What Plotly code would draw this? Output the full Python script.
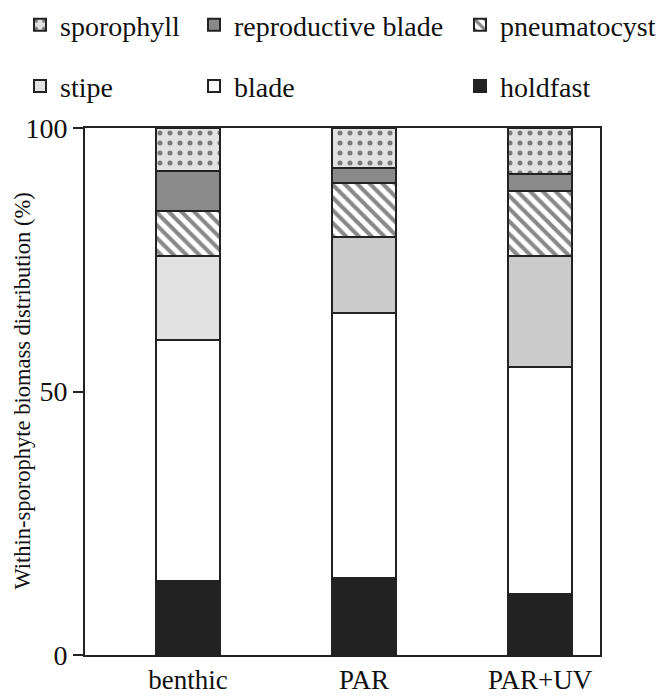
import plotly.graph_objects as go

categories = ["benthic", "PAR", "PAR+UV"]
holdfast = [14.0, 14.7, 11.5]
blade = [45.8, 50.2, 43.1]
stipe = [15.9, 14.4, 21.1]
pneumatocyst = [8.5, 10.3, 12.3]
reproductive_blade = [7.6, 2.9, 3.3]
sporophyll = [8.2, 7.5, 8.7]
y_ticks = [0, 50, 100]

FONT = "Liberation Serif"
LINE = "#222222"
fig = go.Figure()

def add(name, vals, color, rank, legend, pattern=None):
    marker = dict(color=color, line=dict(color=LINE, width=2))
    if pattern:
        marker["pattern"] = pattern
    fig.add_trace(go.Bar(
        x=categories, y=vals, name=name, marker=marker, width=0.36,
        legendrank=rank, legend=legend, legendgroup=name,
    ))

add("holdfast", holdfast, "#222222", 6, "legend3")
add("blade", blade, "#ffffff", 5, "legend2")
add("stipe", stipe, ["#e2e2e2", "#cbcbcb", "#cbcbcb"], 4, "legend")
add("pneumatocyst", pneumatocyst, "#ffffff", 3, "legend3",
    pattern=dict(shape="\\", fgcolor="#111111", size=9, solidity=0.45, fillmode="overlay"))
add("reproductive blade", reproductive_blade, "#8a8a8a", 2, "legend2")
add("sporophyll", sporophyll, "#e2e2e2", 1, "legend",
    pattern=dict(shape=".", fgcolor="#111111", size=10, solidity=0.2, fillmode="overlay"))

leg_common = dict(
    xref="container", yref="container", yanchor="top", xanchor="left", orientation="v",
    font=dict(family=FONT, size=28, color="#111111"),
    bgcolor="rgba(0,0,0,0)", traceorder="grouped", tracegroupgap=22,
    itemclick=False, itemdoubleclick=False,
)

fig.update_layout(
    width=661, height=696,
    margin=dict(l=85, r=61, t=128, b=41, autoexpand=False),
    paper_bgcolor="white", plot_bgcolor="white",
    barmode="stack", bargap=0,
    font=dict(family=FONT, size=27, color="#111111"),
    legend=dict(x=20/661, y=1 + 10/696, **leg_common),
    legend2=dict(x=194/661, y=1 + 10/696, **leg_common),
    legend3=dict(x=460/661, y=1 + 10/696, **leg_common),
    xaxis=dict(
        type="category", range=[-0.585, 2.34],
        showline=True, linecolor=LINE, linewidth=2, mirror=True,
        ticks="", showgrid=False, tickfont=dict(family=FONT, size=27),
        automargin=False,
    ),
    yaxis=dict(
        range=[0, 100], tickvals=y_ticks, ticktext=[str(v) for v in y_ticks],
        showline=True, linecolor=LINE, linewidth=2, mirror=True,
        ticks="outside", ticklen=10, tickwidth=2, tickcolor=LINE,
        showgrid=False, zeroline=False, automargin=False,
        tickfont=dict(family=FONT, size=28),
    ),
    annotations=[dict(
        text="Within-sporophyte biomass distribution (%)",
        xref="paper", yref="paper", x=(22 - 85) / 515, y=0.5,
        xanchor="center", yanchor="middle", textangle=-90, showarrow=False,
        font=dict(family=FONT, size=22.5, color="#111111"),
    )],
)

fig.write_html("out.html")
